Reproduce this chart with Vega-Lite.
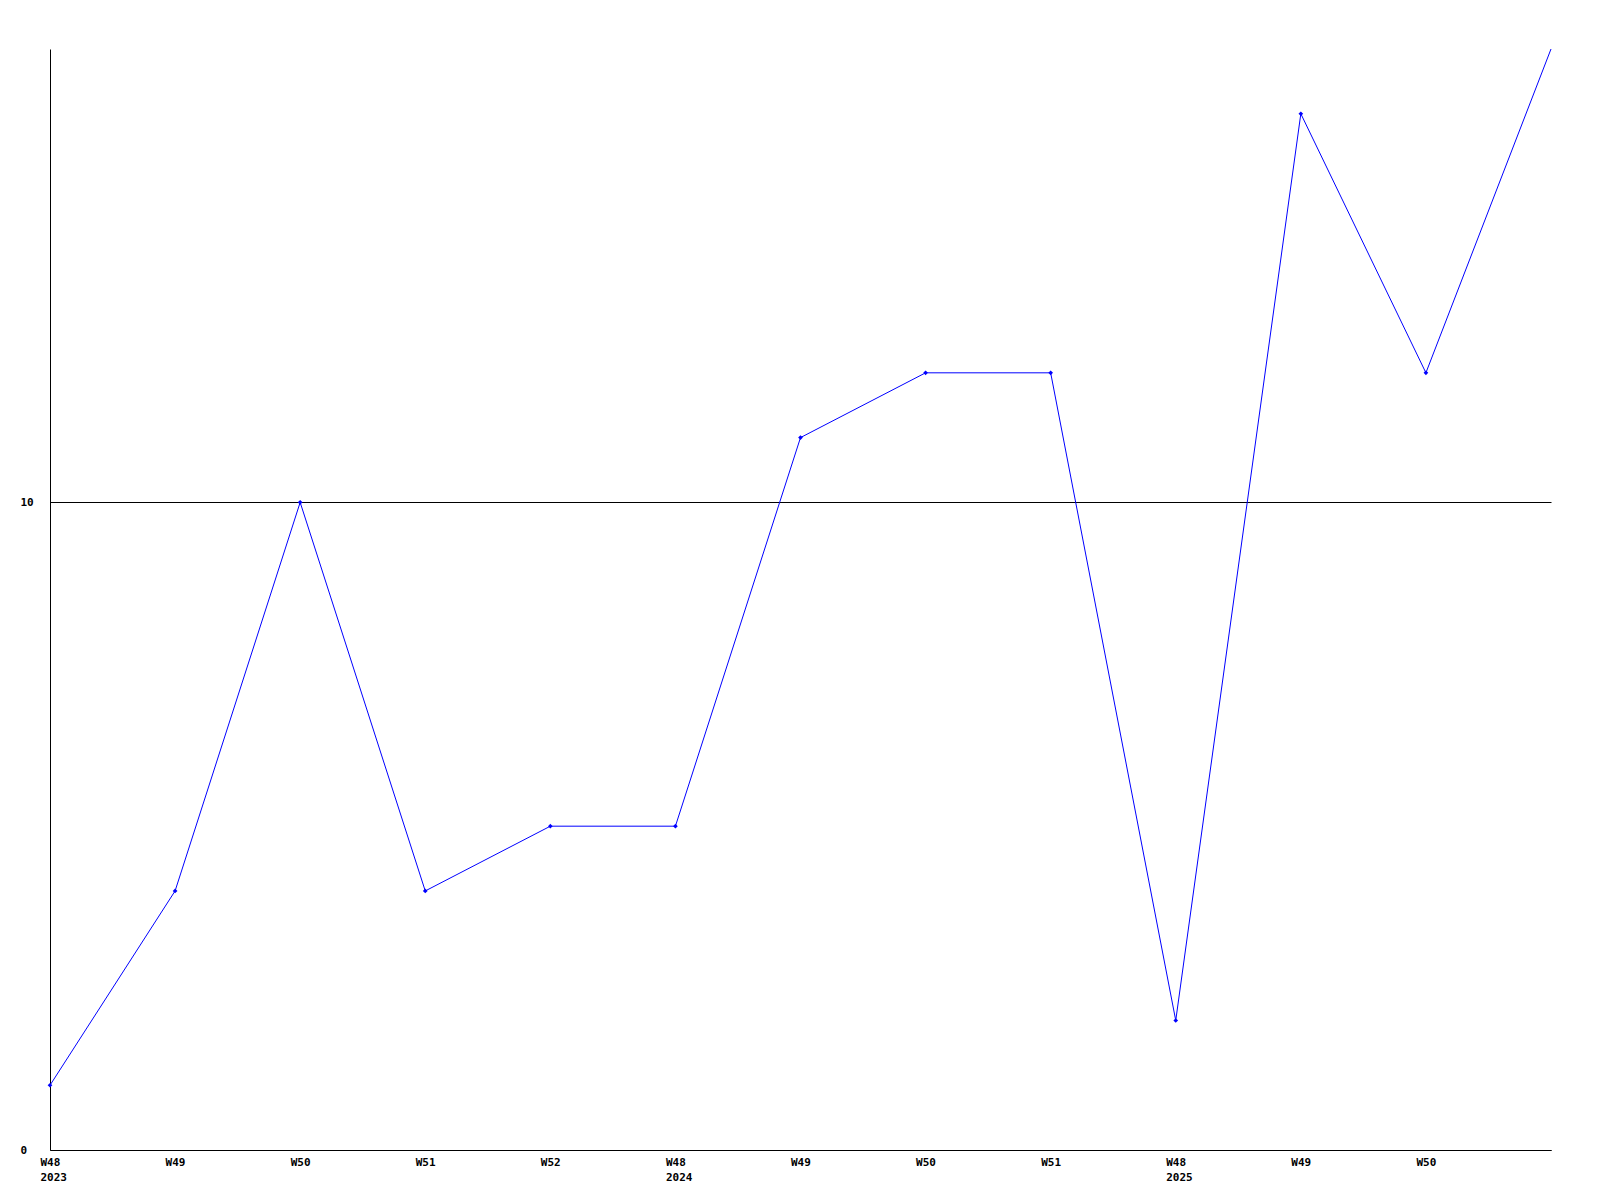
{
  "$schema": "https://vega.github.io/schema/vega-lite/v6.json",
  "width": 1501,
  "height": 1101,
  "autosize": {"type": "none"},
  "padding": {"left": 50, "top": 49, "right": 49, "bottom": 50},
  "background": "white",
  "data": {"values": [
    {"week": "2023-W48", "value": 1},
    {"week": "2023-W49", "value": 4},
    {"week": "2023-W50", "value": 10},
    {"week": "2023-W51", "value": 4},
    {"week": "2023-W52", "value": 5},
    {"week": "2024-W48", "value": 5},
    {"week": "2024-W49", "value": 11},
    {"week": "2024-W50", "value": 12},
    {"week": "2024-W51", "value": 12},
    {"week": "2025-W48", "value": 2},
    {"week": "2025-W49", "value": 16},
    {"week": "2025-W50", "value": 12},
    {"week": "2025-W51", "value": 17}
  ]},
  "config": {
    "view": {"stroke": null},
    "axis": {
      "labelFont": "DejaVu Sans Mono",
      "labelFontWeight": "bold",
      "labelFontSize": 11,
      "labelColor": "black",
      "domainColor": "black",
      "domainWidth": 1,
      "ticks": false,
      "title": null
    }
  },
  "encoding": {
    "x": {
      "field": "week",
      "type": "ordinal",
      "sort": null,
      "scale": {"type": "point", "padding": 0},
      "axis": {
        "grid": false,
        "labelAngle": 0,
        "labelAlign": "left",
        "labelBaseline": "top",
        "labelOffset": -10,
        "labelPadding": 6,
        "labelLineHeight": 15,
        "labelOverlap": false,
        "labelExpr": "datum.value == '2025-W51' ? '' : (slice(datum.value,5) == 'W48' ? [slice(datum.value,5), slice(datum.value,0,4)] : slice(datum.value,5))"
      }
    },
    "y": {
      "field": "value",
      "type": "quantitative",
      "scale": {"domain": [0, 17], "nice": false},
      "axis": {
        "values": [0, 10],
        "grid": true,
        "gridColor": "black",
        "gridOpacity": 1,
        "gridWidth": 1,
        "labelAlign": "left",
        "labelPadding": 30
      }
    }
  },
  "layer": [
    {"mark": {"type": "line", "color": "#0000ff", "strokeWidth": 1, "clip": false}},
    {
      "transform": [{"filter": "datum.week != '2025-W51'"}],
      "mark": {"type": "point", "shape": "diamond", "filled": true, "color": "#0000ff", "size": 22, "opacity": 1}
    }
  ]
}
